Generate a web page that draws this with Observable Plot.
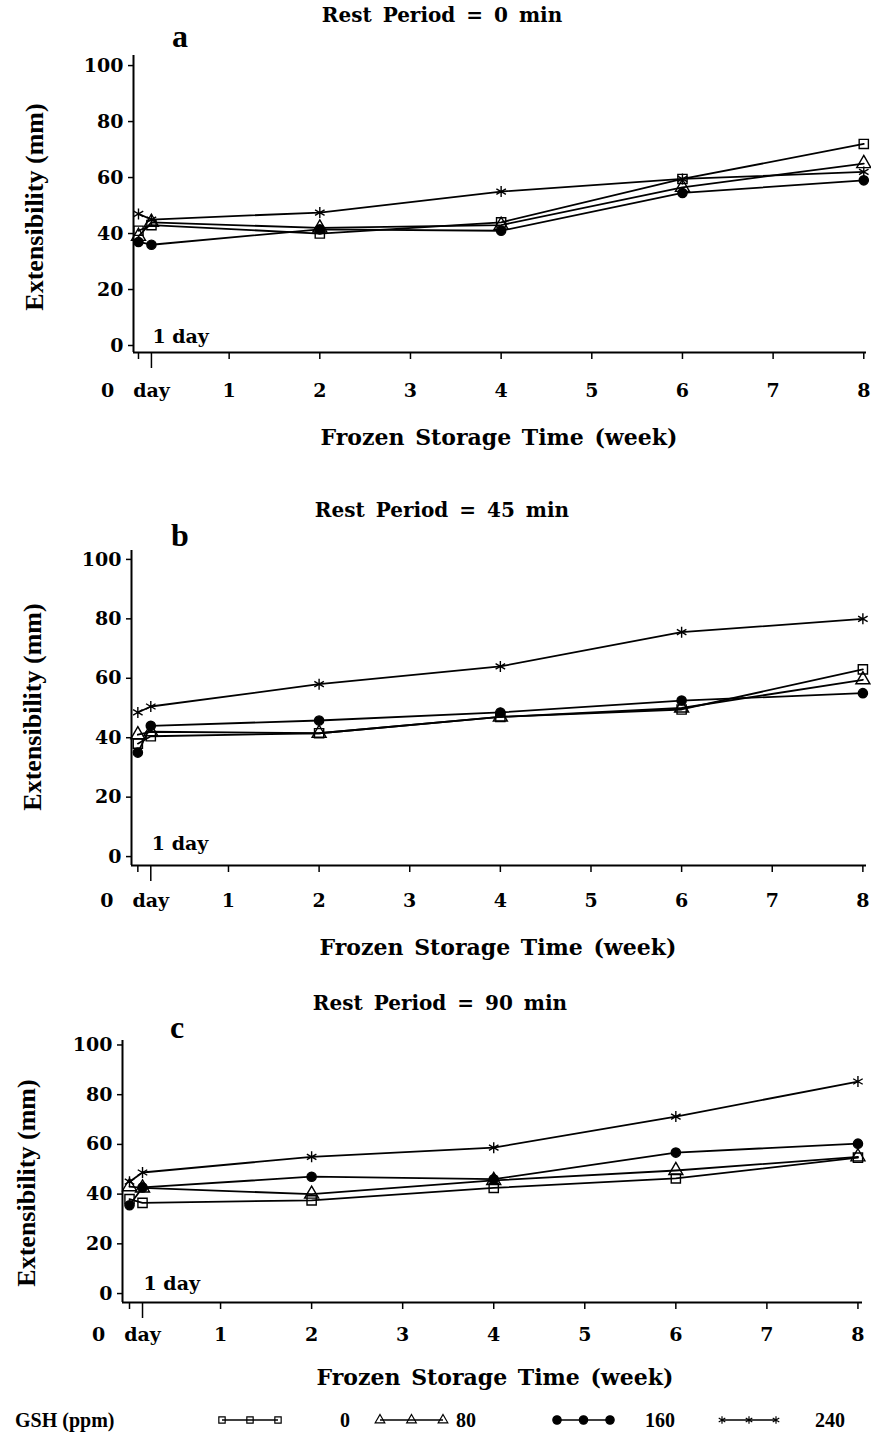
<!DOCTYPE html>
<html>
<head>
<meta charset="utf-8">
<script src="https://cdn.jsdelivr.net/npm/d3@7"></script>
<script src="https://cdn.jsdelivr.net/npm/@observablehq/plot@0.6"></script>
<style>
  body { margin: 0; background: #fff; }
  #page { position: relative; width: 871px; height: 1435px; overflow: hidden; background: #fff; color: #000; }
  .abs { position: absolute; line-height: 1; white-space: pre; transform: translate(-50%, -50%); }
  .title { font-family: "DejaVu Serif", serif; font-weight: bold; font-size: 20px; word-spacing: 4px; }
  .letter { font-family: "Liberation Serif", serif; font-weight: bold; font-size: 32px; }
  .ylab { font-family: "Liberation Serif", serif; font-weight: bold; font-size: 26px; transform: translate(-50%, -50%) rotate(-90deg); }
  .xlab { font-family: "DejaVu Serif", serif; font-weight: bold; font-size: 22px; word-spacing: 3px; }
  .panel { position: absolute; left: 0; }
</style>
</head>
<body>
<div id="page"></div>
<script>
// Frozen storage time points (weeks): 0, 1 day, 2, 4, 6, 8 weeks
const oneDay = 1 / 7;
const weeks = [0, oneDay, 2, 4, 6, 8];
const gshLevels = ["0", "80", "160", "240"];
const restPeriods = [0, 45, 90];
const panelLetters = ["a", "b", "c"];
const xTicks = [1, 2, 3, 4, 5, 6, 7, 8];
const yTicks = [0, 20, 40, 60, 80, 100];

// Extensibility (mm), one row per GSH level (0, 80, 160, 240 ppm)
const extRest0 = [
  [41.0, 43.0, 40.0, 44.0, 59.5, 72.0],
  [39.0, 44.0, 42.0, 43.0, 56.5, 65.0],
  [37.0, 36.0, 41.5, 41.0, 54.5, 59.0],
  [47.0, 45.0, 47.5, 55.0, 59.5, 62.0]
];
const extRest45 = [
  [38.0, 40.5, 41.5, 47.0, 49.5, 63.0],
  [41.0, 42.0, 41.5, 47.0, 50.0, 59.5],
  [35.0, 44.0, 45.8, 48.5, 52.5, 55.0],
  [48.5, 50.5, 58.0, 64.0, 75.5, 80.0]
];
const extRest90 = [
  [38.0, 36.5, 37.5, 42.5, 46.3, 54.7],
  [43.0, 42.5, 40.0, 45.5, 49.5, 55.0],
  [35.5, 42.7, 47.0, 46.0, 56.7, 60.3],
  [45.0, 48.7, 55.0, 58.7, 71.2, 85.3]
];
const panelValues = [extRest0, extRest45, extRest90];

// Marker per GSH level
const symbols = ["square", "triangle", "circle", "asterisk"];
const fills = ["none", "none", "black", "none"];

// Layout of the three stacked panels
const layout = [
  { top: 0,   height: 460, mt: 55, mb: 108, ml: 133, mr: 5, xd: [-0.055, 8.03], yd: [-2.5, 103.6], pad: 24, dayDy: 10,
    title: [442, 15], letter: [180, 36], ylab: [35, 207], xlab: [499, 437] },
  { top: 470, height: 490, mt: 80, mb: 95,  ml: 131, mr: 5, xd: [-0.07, 8.04],  yd: [-3.0, 103.0], pad: 21, dayDy: 16,
    title: [442, 510], letter: [180, 535], ylab: [33, 707], xlab: [498, 947] },
  { top: 960, height: 440, mt: 80, mb: 98,  ml: 122, mr: 9, xd: [-0.077, 8.05], yd: [-3.6, 101.8], pad: 18, dayDy: 13,
    title: [440, 1003], letter: [177, 1027], ylab: [27, 1183], xlab: [495, 1377] }
];

const page = document.getElementById("page");

function addText(cls, text, pos) {
  const d = document.createElement("div");
  d.className = "abs " + cls;
  d.textContent = text;
  d.style.left = pos[0] + "px";
  d.style.top = pos[1] + "px";
  page.appendChild(d);
}

layout.forEach((p, k) => {
  const values = panelValues[k];
  const marks = [
    Plot.ruleX([p.xd[0]], { stroke: "black", strokeWidth: 2 }),
    Plot.ruleY([p.yd[0]], { stroke: "black", strokeWidth: 2 }),
    Plot.axisY(yTicks, { tickSize: 5, tickPadding: 5, strokeWidth: 1.5, label: null }),
    Plot.axisX(xTicks, { tickSize: 7, tickPadding: p.pad, strokeWidth: 1.5, label: null }),
    Plot.axisX([0], { tickSize: 7, tickFormat: () => "", strokeWidth: 1.5, label: null }),
    Plot.axisX([oneDay], { tickSize: 16, tickPadding: p.pad - 9, tickFormat: () => "day", strokeWidth: 1.5, label: null }),
    Plot.text(["0"], { x: () => 0, text: d => d, frameAnchor: "bottom", lineAnchor: "top", dy: 7 + p.pad, dx: -31 }),
    Plot.text(["1 day"], { x: () => oneDay, text: d => d, frameAnchor: "bottom", textAnchor: "start", lineAnchor: "bottom", dy: -p.dayDy, dx: 1 })
  ];
  gshLevels.forEach((g, i) => {
    const rows = weeks.map((w, j) => ({ week: w, ext: values[i][j], gsh: g }));
    marks.push(Plot.line(rows, { x: "week", y: "ext", stroke: "black", strokeWidth: 1.8 }));
    marks.push(Plot.dot(rows, {
      x: "week", y: "ext", symbol: symbols[i], r: symbols[i] === "circle" ? 4.6 : 5.2,
      stroke: "black", strokeWidth: 1.4, fill: fills[i]
    }));
  });

  const svg = Plot.plot({
    width: 871,
    height: p.height,
    marginTop: p.mt,
    marginBottom: p.mb,
    marginLeft: p.ml,
    marginRight: p.mr,
    x: { domain: p.xd, label: null },
    y: { domain: p.yd, label: null },
    style: { fontFamily: "DejaVu Serif, serif", fontWeight: "bold", fontSize: "19px", background: "transparent", overflow: "visible" },
    marks
  });
  const holder = document.createElement("div");
  holder.className = "panel";
  holder.style.top = p.top + "px";
  holder.appendChild(svg);
  page.appendChild(holder);

  addText("title", `Rest Period = ${restPeriods[k]} min`, p.title);
  addText("letter", panelLetters[k], p.letter);
  addText("ylab", "Extensibility (mm)", p.ylab);
  addText("xlab", "Frozen Storage Time (week)", p.xlab);
});

// Legend for GSH levels
const legendItems = [
  { x1: 222, x2: 278, label: [345] },
  { x1: 380, x2: 443, label: [466] },
  { x1: 557, x2: 610, label: [660] },
  { x1: 722, x2: 776, label: [830] }
];
const leg = d3.select(page).append("svg")
  .attr("width", 871).attr("height", 35)
  .style("position", "absolute").style("left", "0px").style("top", "1402px");
leg.append("text").attr("x", 15).attr("y", 25)
  .attr("font-family", "Liberation Serif, serif").attr("font-weight", "bold").attr("font-size", 20)
  .text("GSH (ppm)");
const symbolTypes = [d3.symbolSquare, d3.symbolTriangle, d3.symbolCircle, d3.symbolAsterisk];
legendItems.forEach((it, i) => {
  const g = leg.append("g");
  g.append("line").attr("x1", it.x1).attr("x2", it.x2).attr("y1", 18).attr("y2", 18)
    .attr("stroke", "black").attr("stroke-width", 1.5);
  [it.x1, (it.x1 + it.x2) / 2, it.x2].forEach(cx => {
    g.append("path").attr("d", d3.symbol(symbolTypes[i], i === 2 ? 55 : 40)())
      .attr("transform", `translate(${cx},18)`)
      .attr("fill", fills[i]).attr("stroke", "black").attr("stroke-width", 1.2);
  });
  leg.append("text").attr("x", it.label[0]).attr("y", 25).attr("text-anchor", "middle")
    .attr("font-family", "Liberation Serif, serif").attr("font-weight", "bold").attr("font-size", 20)
    .text(gshLevels[i]);
});
</script>
</body>
</html>
